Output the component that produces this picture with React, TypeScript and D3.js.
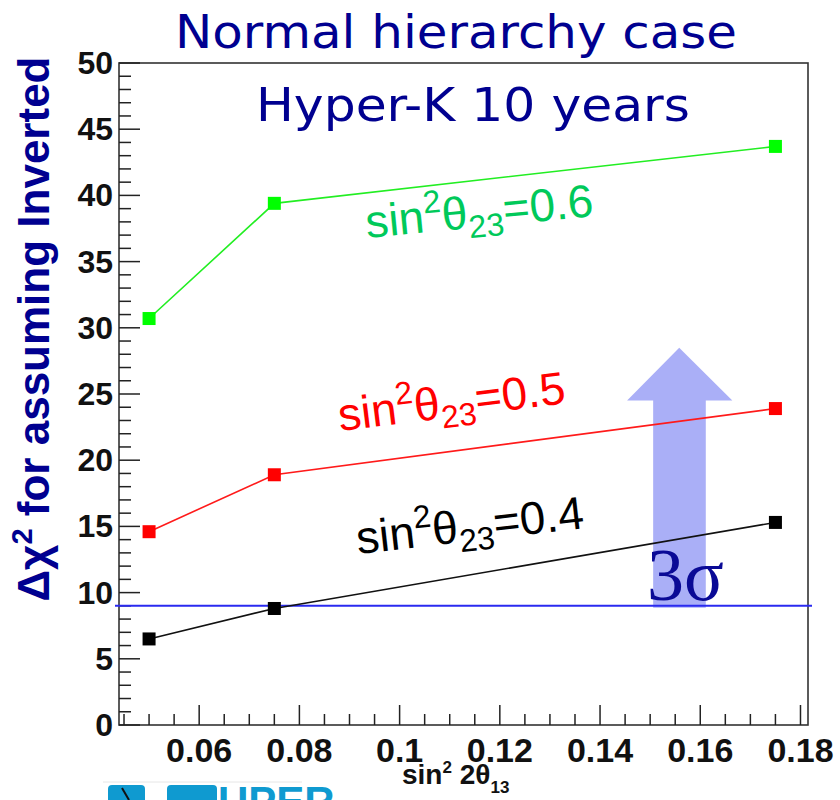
import React from "react";
import * as d3 from "d3";

const xValues = [0.05, 0.075, 0.175];
const green06 = [30.7, 39.4, 43.7];
const red05 = [14.6, 18.9, 23.9];
const black04 = [6.5, 8.8, 15.3];
const threeSigma = 9;
const yMajorTicks = [0, 5, 10, 15, 20, 25, 30, 35, 40, 45, 50];
const xMajorTicks = [0.06, 0.08, 0.1, 0.12, 0.14, 0.16, 0.18];
const xTickLabels = ["0.06", "0.08", "0.1", "0.12", "0.14", "0.16", "0.18"];

const W = 840, H = 800;
const L = 119, R = 808, T = 63, B = 725;

export default function App() {
  const x = d3.scaleLinear().domain([0.044, 0.1815]).range([L, R]);
  const y = d3.scaleLinear().domain([0, 50]).range([B, T]);
  const line = d3.line<[number, number]>().x(d => x(d[0])).y(d => y(d[1]));

  const series = [
    { vals: green06, line: "#22ee22", fill: "#00ff00" },
    { vals: red05, line: "#ff1a1a", fill: "#ff0000" },
    { vals: black04, line: "#111", fill: "#000" },
  ];

  const xMinor = d3.range(0, 28).map(i => 0.045 + i * 0.005).filter(v => v <= 0.1812);
  const yMinor = d3.range(0, 51);
  const isMajorX = (v: number) => xMajorTicks.some(m => Math.abs(m - v) < 1e-6);

  // arrow annotation in data coords
  const ax0 = 0.1506, ax1 = 0.1611, ah0 = 0.1454, ah1 = 0.1664, axm = 0.1558;
  const arrowPts: [number, number][] = [
    [x(ax0), y(8.85)], [x(ax0), y(24.5)], [x(ah0), y(24.5)], [x(axm), y(28.5)],
    [x(ah1), y(24.5)], [x(ax1), y(24.5)], [x(ax1), y(8.85)],
  ];

  const labelFont = "'Liberation Sans', Arial, sans-serif";
  const seriesLabels = [
    { val: "0.6", color: "#00c95a", px: 367, py: 238, rot: -5.5, len: 232 },
    { val: "0.5", color: "#ff0000", px: 340, py: 431, rot: -7, len: 229 },
    { val: "0.4", color: "#000000", px: 358, py: 554, rot: -6.5, len: 230 },
  ];

  return (
    <svg width={W} height={H} style={{ position: "absolute", left: 0, top: 0, background: "#fff" }}>
      <rect x={0} y={0} width={W} height={H} fill="#fff" />
      {/* titles */}
      <text x={456} y={48} textAnchor="middle" fontFamily="'DejaVu Sans', sans-serif" fontSize={46}
        fill="#000090" textLength={562} lengthAdjust="spacingAndGlyphs">Normal hierarchy case</text>
      <text x={473} y={121} textAnchor="middle" fontFamily="'DejaVu Sans', sans-serif" fontSize={46}
        fill="#000090" textLength={434} lengthAdjust="spacingAndGlyphs">Hyper-K 10 years</text>

      {/* y axis title */}
      <text transform="translate(49,329) rotate(-90)" textAnchor="middle" fontFamily={labelFont}
        fontWeight="bold" fontSize={44} fill="#000090">
        Δχ<tspan fontSize={29} dy={-17}>2</tspan><tspan dy={17}> for assuming Inverted</tspan>
      </text>

      {/* frame */}
      <rect x={L} y={T} width={R - L} height={B - T} fill="none" stroke="#333" strokeWidth={1.6} />

      {/* x ticks */}
      {xMinor.map((v, i) => (
        <line key={"xm" + i} x1={x(v)} x2={x(v)} y1={B} y2={B - (isMajorX(v) ? 20 : 11)} stroke="#222" strokeWidth={1.5} />
      ))}
      {/* y ticks */}
      {yMinor.map(v => (
        <line key={"ym" + v} x1={L} x2={L + (v % 5 === 0 ? 21 : 12)} y1={y(v)} y2={y(v)} stroke="#222" strokeWidth={1.5} />
      ))}
      {yMajorTicks.map(v => (
        <text key={"yl" + v} x={113} y={y(v) + 11} textAnchor="end" fontFamily={labelFont}
          fontWeight="bold" fontSize={32} fill="#111">{v}</text>
      ))}
      {xMajorTicks.map((v, i) => (
        <text key={"xl" + v} x={x(v)} y={762} textAnchor="middle" fontFamily={labelFont}
          fontWeight="bold" fontSize={34} fill="#111">{xTickLabels[i]}</text>
      ))}
      {/* x axis title */}
      <text x={402} y={784} fontFamily={labelFont} fontWeight="bold" fontSize={28} fill="#111">
        sin<tspan fontSize={17} dy={-11}>2</tspan><tspan dy={11}> 2θ</tspan><tspan fontSize={17} dy={9}>13</tspan>
      </text>

      {/* arrow */}
      <polygon points={arrowPts.map(p => p.join(",")).join(" ")} fill="#5560f0" fillOpacity={0.5} />

      {/* 3 sigma line */}
      <line x1={115} x2={812} y1={y(threeSigma)} y2={y(threeSigma)} stroke="#2a2af0" strokeWidth={2} />

      {/* series */}
      {series.map((s, si) => {
        const pts = xValues.map((xv, i) => [xv, s.vals[i]] as [number, number]);
        return (
          <g key={"s" + si}>
            <path d={line(pts) || ""} fill="none" stroke={s.line} strokeWidth={1.6} />
            {pts.map((p, i) => (
              <rect key={i} x={x(p[0]) - 6.5} y={y(p[1]) - 6.5} width={13} height={13} fill={s.fill} />
            ))}
          </g>
        );
      })}

      {/* series labels */}
      {seriesLabels.map((l, i) => (
        <text key={"lab" + i} transform={`translate(${l.px},${l.py}) rotate(${l.rot})`} fontFamily={labelFont}
          fontSize={46} fill={l.color}>
          sin<tspan fontSize={32} dy={-19}>2</tspan><tspan dy={19}>θ</tspan><tspan fontSize={32} dy={10}>23</tspan><tspan dy={-10}>={l.val}</tspan>
        </text>
      ))}

      {/* 3 sigma text */}
      <text x={647} y={600} fontFamily="'Liberation Serif', 'Times New Roman', serif" fontSize={74} fill="#0a0a96">3σ</text>

      {/* cut-off logo */}
      <line x1={103} x2={302} y1={782} y2={782} stroke="#e6e6e6" strokeWidth={1} />
      <rect x={108} y={785} width={37} height={30} rx={4} fill="#0f9ad0" />
      <line x1={122} x2={129} y1={788} y2={800} stroke="#111" strokeWidth={2} />
      <rect x={167} y={785} width={50} height={30} rx={4} fill="#0f9ad0" />
      <text x={218} y={816} fontFamily={labelFont} fontWeight="bold" fontSize={42} fill="#0f9ad0">UPER</text>
    </svg>
  );
}
